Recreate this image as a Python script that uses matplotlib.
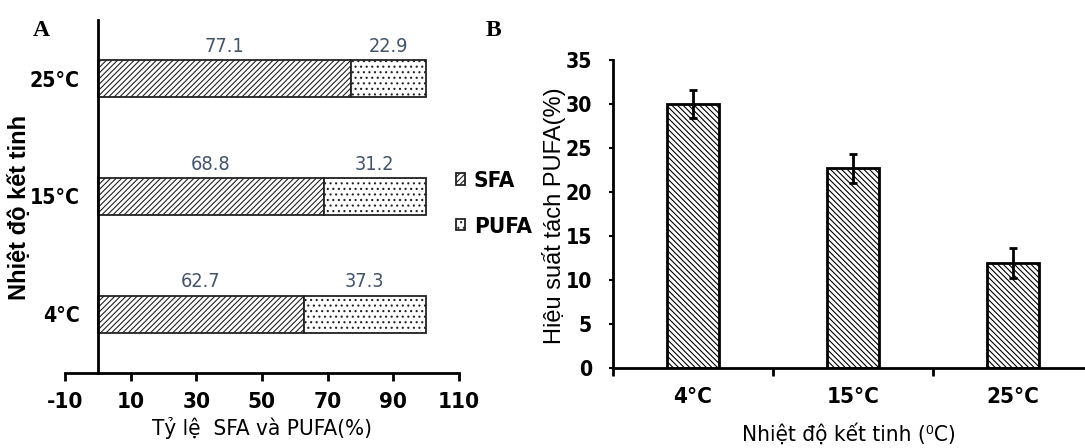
import matplotlib
matplotlib.use('Agg')
import matplotlib.pyplot as plt
from matplotlib import font_manager
import numpy as np

plt.rcParams['hatch.linewidth'] = 0.8
plt.rcParams['axes.unicode_minus'] = False

# panel A data
temps_a = ['4°C', '15°C', '25°C']
sfa = [62.7, 68.8, 77.1]
pufa = [37.3, 31.2, 22.9]

# panel B data
temps_b = ['4°C', '15°C', '25°C']
yield_pufa = [30.0, 22.7, 11.9]
yield_err = [1.6, 1.65, 1.7]

# pick a narrow font if one is around, otherwise shrink Liberation Sans
fonts = font_manager.fontManager.ttflist
names = set(f.name for f in fonts)
if 'Liberation Sans Narrow' in names:
    narrow = ['Liberation Sans Narrow', 'DejaVu Sans']
    stretch = 'normal'
    k = 1.0
elif any(f.name == 'DejaVu Sans' and f.stretch == 'condensed' for f in fonts):
    narrow = ['DejaVu Sans']
    stretch = 'condensed'
    k = 0.95
else:
    narrow = ['Liberation Sans', 'DejaVu Sans']
    stretch = 'normal'
    k = 0.86
sans = ['Liberation Sans', 'DejaVu Sans']
serif = ['Liberation Serif', 'DejaVu Serif']
label_col = '#44546a'


def style(t, size, bold=True):
    t.set_family(narrow)
    t.set_stretch(stretch)
    t.set_fontweight('bold' if bold else 'normal')
    t.set_fontsize(size * k)


fig = plt.figure(figsize=(10.85, 4.48), dpi=100)

# ---------------- panel A ----------------
ax = fig.add_axes([0.0599, 0.1674, 0.363, 0.788])
ypos = np.arange(len(temps_a))
h = 0.315
ax.barh(ypos, sfa, height=h, color='white', edgecolor='#222222', hatch='//////', linewidth=1.3, label='SFA')
ax.barh(ypos, pufa, left=sfa, height=h, color='white', edgecolor='#222222', hatch='...', linewidth=1.3, label='PUFA')
for i in range(len(temps_a)):
    t1 = ax.annotate(str(sfa[i]), (sfa[i] / 2, ypos[i] + h / 2), xytext=(0, 3), textcoords='offset points',
                     ha='center', va='bottom', color=label_col)
    t2 = ax.annotate(str(pufa[i]), (sfa[i] + pufa[i] / 2, ypos[i] + h / 2), xytext=(0, 3), textcoords='offset points',
                     ha='center', va='bottom', color=label_col)
    style(t1, 15, bold=False)
    style(t2, 15, bold=False)
ax.set_xlim(-10, 110)
ax.set_ylim(-0.5, 2.5)
ax.set_xticks(range(-10, 111, 20))
ax.set_yticks(ypos)
ax.set_yticklabels(temps_a)
ax.spines['top'].set_visible(False)
ax.spines['right'].set_visible(False)
ax.spines['left'].set_position(('data', 0))
ax.spines['left'].set_linewidth(2)
ax.spines['bottom'].set_linewidth(2)
ax.tick_params(axis='x', direction='out', length=6, width=2, pad=8)
ax.tick_params(axis='y', length=0, pad=13)
for t in ax.get_xticklabels():
    style(t, 17)
for t in ax.get_yticklabels():
    style(t, 16)
xl = ax.set_xlabel('Tỷ lệ  SFA và PUFA(%)', labelpad=3)
style(xl, 17, bold=False)
fig.text(0.018, 0.536, 'Nhiệt độ kết tinh', rotation=90, ha='center', va='center',
         family=sans, fontweight='bold', fontsize=17)
leg = ax.legend(loc='center left', bbox_to_anchor=(0.992, 0.479), frameon=False,
                prop={'family': narrow, 'stretch': stretch, 'weight': 'bold', 'size': 17 * k},
                handlelength=0.4, handleheight=0.4, handletextpad=0.4, labelspacing=1.15,
                borderpad=0, borderaxespad=0)
fig.text(0.038, 0.932, 'A', family=serif, fontweight='bold', fontsize=17, ha='center', va='center')

# ---------------- panel B ----------------
bx = fig.add_axes([0.565, 0.1786, 0.435, 0.6875])
xpos = np.arange(len(temps_b))
bx.bar(xpos, yield_pufa, width=0.32, color='white', edgecolor='black', hatch='\\\\\\\\\\\\', linewidth=2)
bx.errorbar(xpos, yield_pufa, yerr=yield_err, fmt='none', ecolor='black', elinewidth=2, capsize=3, capthick=2)
bx.set_xlim(-0.5, 2.45)
bx.set_ylim(0, 35)
bx.set_yticks(range(0, 36, 5))
bx.set_xticks(xpos)
bx.set_xticklabels(temps_b)
bx.set_xticks([-0.5, 0.5, 1.5], minor=True)
bx.spines['top'].set_visible(False)
bx.spines['right'].set_visible(False)
bx.spines['left'].set_linewidth(2)
bx.spines['bottom'].set_linewidth(2)
bx.tick_params(axis='x', which='major', length=0, pad=14)
bx.tick_params(axis='x', which='minor', direction='out', length=6, width=2)
bx.tick_params(axis='y', direction='out', length=3, width=1.5, pad=12)
for t in bx.get_xticklabels():
    style(t, 17)
for t in bx.get_yticklabels():
    style(t, 16)
bxl = bx.set_xlabel('Nhiệt độ kết tinh (⁰C)', labelpad=11)
style(bxl, 17, bold=False)
fig.text(0.511, 0.518, 'Hiệu suất tách PUFA(%)', rotation=90, ha='center', va='center',
         family=sans, fontsize=17)
fig.text(0.455, 0.932, 'B', family=serif, fontweight='bold', fontsize=17, ha='center', va='center')

fig.savefig('out.png', dpi=100)
